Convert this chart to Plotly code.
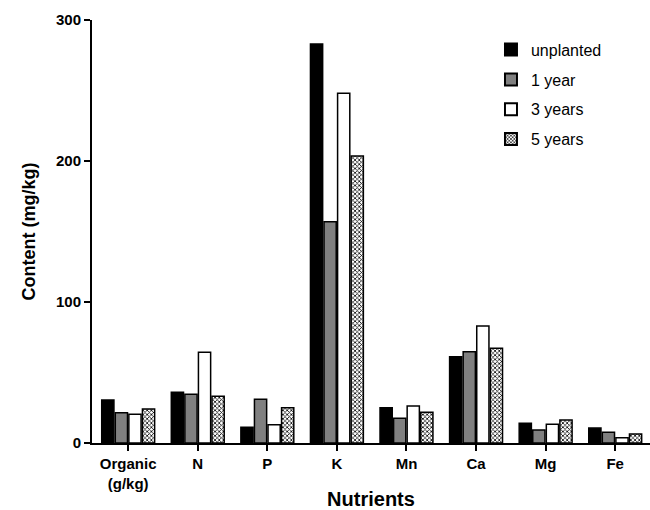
import plotly.graph_objects as go

categories = ["Organic<br>(g/kg)", "N", "P", "K", "Mn", "Ca", "Mg", "Fe"]
unplanted = [30.5, 36.0, 11.1, 283.0, 25.0, 61.2, 14.0, 10.6]
year1 = [21.5, 34.6, 31.0, 157.0, 17.5, 64.8, 9.2, 7.6]
year3 = [20.4, 64.3, 13.0, 248.0, 26.2, 83.0, 13.3, 3.8]
year5 = [24.1, 33.1, 25.0, 203.5, 21.8, 67.2, 16.3, 6.4]
series_names = ["unplanted", "1 year", "3 years", "5 years"]
y_ticks = [0, 100, 200, 300]

FONT = "Arial, Liberation Sans, sans-serif"

fig = go.Figure()
fig.add_trace(go.Bar(x=categories, y=unplanted, name=series_names[0], legendgroup="a",
                     marker=dict(color="black", line=dict(color="black", width=1.5))))
fig.add_trace(go.Bar(x=categories, y=year1, name=series_names[1], legendgroup="b",
                     marker=dict(color="#808080", line=dict(color="black", width=1.5))))
fig.add_trace(go.Bar(x=categories, y=year3, name=series_names[2], legendgroup="c",
                     marker=dict(color="white", line=dict(color="black", width=1.5))))
fig.add_trace(go.Bar(x=categories, y=year5, name=series_names[3], legendgroup="d",
                     marker=dict(color="white", line=dict(color="black", width=1.5),
                                 pattern=dict(shape="x", size=3, solidity=0.45,
                                              fgcolor="black", bgcolor="white",
                                              fillmode="replace"))))

fig.update_layout(
    width=650, height=510,
    margin=dict(l=92, r=0, t=20, b=67),
    plot_bgcolor="white", paper_bgcolor="white",
    barmode="group", bargap=0.22, bargroupgap=0.1,
    font=dict(family=FONT, color="black"),
    showlegend=True,
    legend=dict(x=0.715, y=0.97, xanchor="left", yanchor="top",
                font=dict(size=16, family=FONT, color="black"),
                itemsizing="constant", tracegroupgap=6, traceorder="grouped",
                bgcolor="rgba(0,0,0,0)"),
)
fig.update_xaxes(
    showline=True, linecolor="black", linewidth=2, automargin=False,
    ticks="outside", ticklen=6, tickwidth=2, tickcolor="black",
    tickfont=dict(size=15, family=FONT, color="black", weight="bold"),
    title=dict(text="<b>Nutrients</b>", font=dict(size=20, family=FONT, color="black"),
               standoff=8),
    showgrid=False, range=[-0.52, 7.5],
)
fig.update_yaxes(
    showline=True, linecolor="black", linewidth=2, automargin=False,
    ticks="outside", ticklen=6, tickwidth=2, tickcolor="black",
    tickvals=y_ticks, range=[0, 300],
    tickfont=dict(size=15, family=FONT, color="black", weight="bold"),
    title=dict(text="<b>Content (mg/kg)</b>", font=dict(size=18, family=FONT, color="black"),
               standoff=16),
    showgrid=False, zeroline=False,
)

fig.write_html("out.html")
